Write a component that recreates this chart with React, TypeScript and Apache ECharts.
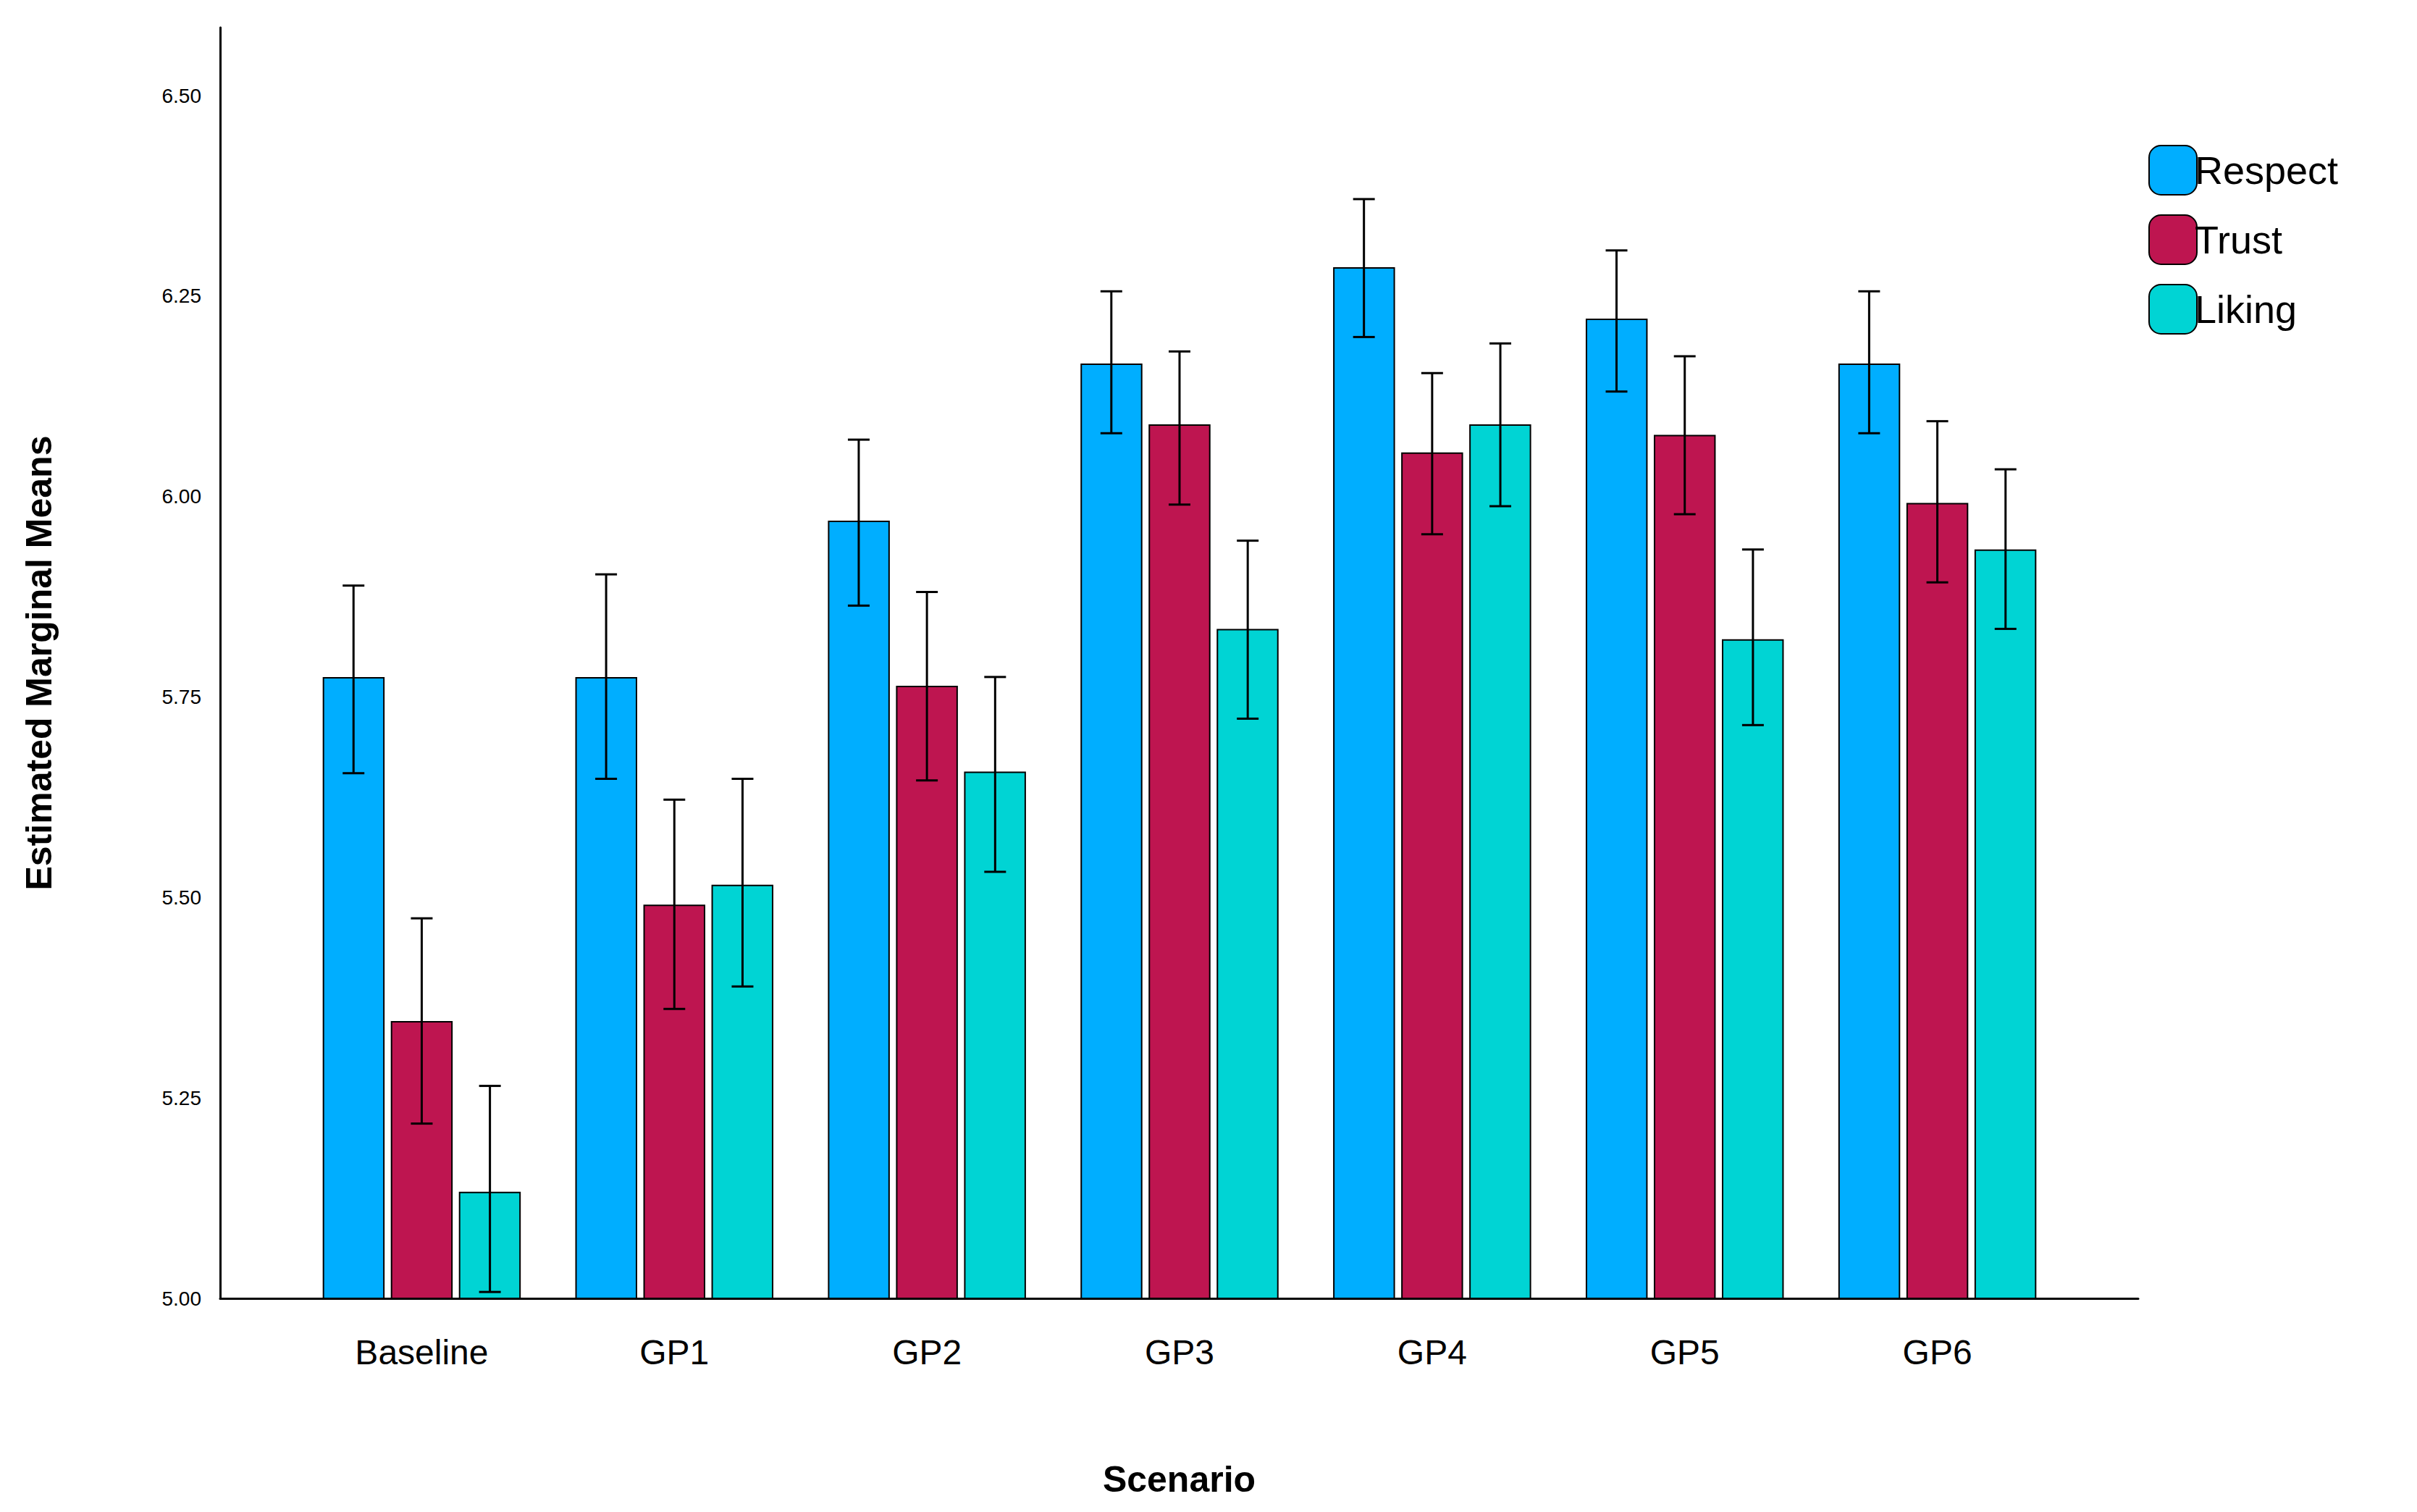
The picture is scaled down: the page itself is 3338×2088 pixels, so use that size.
import { useEffect, useRef } from "react";
import * as echarts from "echarts";

const categories = ["Baseline", "GP1", "GP2", "GP3", "GP4", "GP5", "GP6"];
const seriesNames = ["Respect", "Trust", "Liking"];
const seriesColors = ["#00aeff", "#be1550", "#00d4d4"];

const respect = [5.775, 5.775, 5.97, 6.166, 6.286, 6.222, 6.166];
const trust = [5.346, 5.491, 5.764, 6.09, 6.055, 6.077, 5.992];
const liking = [5.133, 5.516, 5.657, 5.835, 6.09, 5.822, 5.934];

const respectLow = [5.655, 5.648, 5.864, 6.079, 6.199, 6.131, 6.079];
const respectHigh = [5.889, 5.903, 6.071, 6.256, 6.371, 6.307, 6.256];
const trustLow = [5.218, 5.361, 5.646, 5.99, 5.953, 5.978, 5.893];
const trustHigh = [5.474, 5.622, 5.881, 6.181, 6.154, 6.175, 6.094];
const likingLow = [5.008, 5.389, 5.532, 5.723, 5.988, 5.715, 5.835];
const likingHigh = [5.265, 5.648, 5.775, 5.945, 6.191, 5.934, 6.034];

const yMin = 5;
const yMax = 6.585;
const yInterval = 0.25;

const FONT = "Liberation Sans";

export default function App() {
  const chartRef = useRef<HTMLDivElement>(null);

  useEffect(() => {
    document.body.style.margin = "0";
    if (!chartRef.current) return;
    const chart = echarts.init(chartRef.current, undefined, { renderer: "svg" });

    const values = [respect, trust, liking];
    const lows = [respectLow, trustLow, likingLow];
    const highs = [respectHigh, trustHigh, likingHigh];
    const offsets = [-0.27, 0, 0.27];

    const bars = seriesNames.map((name, s) => ({
      name,
      type: "bar",
      xAxisIndex: 0,
      yAxisIndex: 0,
      data: values[s],
      barWidth: "24.5%",
      barGap: "10%",
      itemStyle: { color: seriesColors[s], borderColor: "#000", borderWidth: 2 },
    }));

    const errors = seriesNames.map((name, s) => ({
      name: name + " error",
      type: "custom",
      xAxisIndex: 0,
      yAxisIndex: 0,
      data: categories.map((_, i) => [i, lows[s][i], highs[s][i]]),
      renderItem: (_params: any, api: any) => {
        const i = api.value(0);
        const bandW = api.size([1, 0])[0];
        const top = api.coord([i, api.value(2)]);
        const bot = api.coord([i, api.value(1)]);
        const x = top[0] + offsets[s] * bandW;
        const cap = 15;
        const style = { stroke: "#000", lineWidth: 3 };
        return {
          type: "group",
          children: [
            { type: "line", shape: { x1: x, y1: top[1], x2: x, y2: bot[1] }, style },
            { type: "line", shape: { x1: x - cap, y1: top[1], x2: x + cap, y2: top[1] }, style },
            { type: "line", shape: { x1: x - cap, y1: bot[1], x2: x + cap, y2: bot[1] }, style },
          ],
        };
      },
      z: 10,
    }));

    chart.setOption({
      animation: false,
      backgroundColor: "#fff",
      textStyle: { fontFamily: FONT },
      legend: {
        data: seriesNames,
        orient: "vertical",
        left: 2962,
        top: 195,
        itemWidth: 66,
        itemHeight: 68,
        itemGap: 26,
        textStyle: { fontSize: 54, color: "#000", fontFamily: FONT, padding: [0, 0, 0, -8] },
        itemStyle: { borderColor: "#000", borderWidth: 2 },
      },
      grid: [
        { left: 408, width: 2442, top: 38, bottom: 295 },
        { left: 304, right: 385, top: 38, bottom: 295 },
      ],
      xAxis: [
        {
          gridIndex: 0,
          type: "category",
          data: categories,
          axisLine: { show: false },
          axisTick: { show: false },
          axisLabel: { fontSize: 48, color: "#000", margin: 50, fontFamily: FONT },
        },
        {
          gridIndex: 1,
          type: "category",
          data: [""],
          axisLine: { lineStyle: { color: "#000", width: 3 } },
          axisTick: { show: false },
          axisLabel: { show: false },
          name: "Scenario",
          nameLocation: "middle",
          nameGap: 225,
          nameTextStyle: { fontSize: 50, fontWeight: "bold", color: "#000", fontFamily: FONT },
        },
      ],
      yAxis: [
        {
          gridIndex: 0,
          type: "value",
          min: yMin,
          max: yMax,
          interval: yInterval,
          show: false,
          splitLine: { show: false },
        },
        {
          gridIndex: 1,
          type: "value",
          min: yMin,
          max: yMax,
          interval: yInterval,
          axisLine: { show: true, lineStyle: { color: "#000", width: 3 } },
          axisTick: { show: false },
          splitLine: { show: false },
          axisLabel: {
            fontSize: 28,
            color: "#000",
            margin: 26,
            showMaxLabel: false,
            fontFamily: FONT,
            formatter: (v: number) => v.toFixed(2),
          },
          name: "Estimated Marginal Means",
          nameLocation: "middle",
          nameGap: 225,
          nameTextStyle: { fontSize: 50, fontWeight: "bold", color: "#000", fontFamily: FONT },
        },
      ],
      series: [...bars, ...errors],
    });

    return () => chart.dispose();
  }, []);

  return <div ref={chartRef} style={{ width: 3338, height: 2088 }} />;
}
